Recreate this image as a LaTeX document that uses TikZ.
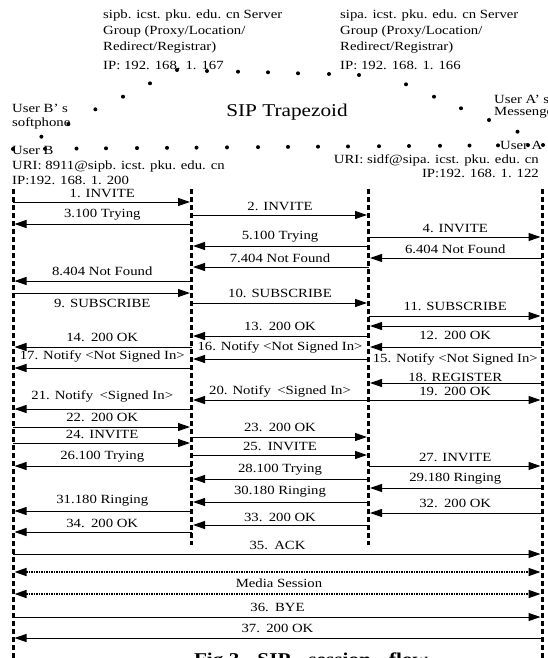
\documentclass[tikz,border=0pt]{standalone}
\usepackage{fontspec}
\setmainfont{Liberation Serif}[FakeStretch=1.18]
\usetikzlibrary{arrows.meta,calc}
\begin{document}
\begin{tikzpicture}[x=1pt,y=-1pt,
  lbl/.style={font=\fontsize{12.5}{15}\selectfont, inner sep=0pt},
  txt/.style={font=\fontsize{12.5}{15}\selectfont, inner sep=0pt, anchor=west},
  rtxt/.style={font=\fontsize{12.5}{15}\selectfont, inner sep=0pt, anchor=east},
  life/.style={line width=3pt, dash pattern=on 5pt off 3pt},
  msg/.style={line width=1pt, -{Triangle[length=12pt,width=8pt]}, shorten >=1.5pt},
  media/.style={line width=1.4pt, dash pattern=on 1.5pt off 1pt,
     {Triangle[length=12pt,width=8pt]}-{Triangle[length=12pt,width=8pt]},
     shorten >=1.5pt, shorten <=1.5pt},
]
\useasboundingbox (0,0) rectangle (548,658);

% header texts
\node[txt] (hb1) at (103,15) {sipb. icst. pku. edu. cn Server};
\node[txt] (hb2) at (103,32) {Group (Proxy/Location/};
\node[txt] (hb3) at (103,48) {Redirect/Registrar)};
\node[txt] (hb4) at (103,65) {IP: 192. 168. 1. 167};
\node[txt] (ha1) at (340,15) {sipa. icst. pku. edu. cn Server};
\node[txt] (ha2) at (340,32) {Group (Proxy/Location/};
\node[txt] (ha3) at (340,48) {Redirect/Registrar)};
\node[txt] (ha4) at (340,65) {IP: 192. 168. 1. 166};

\node[font=\fontsize{18}{20}\selectfont, inner sep=0pt] (trap) at (287,112) {SIP Trapezoid};

\node[txt] (ubs) at (12,108.5) {User B’ s};
\node[txt] (usp) at (12,123) {softphone};
\node[txt] (ub) at (12,150) {User B};
\node[txt] (uriB) at (12,166) {URI: 8911@sipb. icst. pku. edu. cn};
\node[txt] (ipB) at (12,180.5) {IP:192. 168. 1. 200};

\node[txt] (uas) at (494,99) {User A’ s};
\node[txt] (ums) at (494,113) {Messenger};
\node[txt] (ua) at (500,145) {User A};
\node[rtxt] (uriA) at (539,160) {URI: sidf@sipa. icst. pku. edu. cn};
\node[rtxt] (ipA) at (539,173.5) {IP:192. 168. 1. 122};

% dotted trapezoid
\foreach \x/\y in {177/70,207/71,238/71.7,268/72.3,298/73.3,329/74,359/75,
  150/83.3,123/96.7,95.4/109.3,68.4/124,41.4/136.7,
  406/84.3,434/96.7,461/108.3,489/120,517.5/131.7}
  \fill (\x,\y) circle (2pt);
\foreach \x in {13,45,76.5,106,137,167,196.5,227,258,288,318,348,379,409,440,469.5,498,528,543}
  \fill (\x,{149-4*(\x-13)/530}) circle (2pt);

% lifelines
\coordinate (B) at (13,189);
\coordinate (PB) at (191.5,189);
\coordinate (PA) at (368.5,189);
\coordinate (A) at (542,189);
\coordinate (Be) at (13,662);
\coordinate (PBe) at (191.5,545);
\coordinate (PAe) at (368.5,545);
\coordinate (Ae) at (542,662);
\draw[life] (B) -- (Be);
\draw[life] (PB) -- (PBe);
\draw[life] (PA) -- (PAe);
\draw[life] (A) -- (Ae);

% messages
\foreach \n/\y/\f/\t/\l/\ly in {
 1/202/B/PB/1. INVITE/193,
 2/215/PB/PA/2. INVITE/206,
 3/224/PB/B/3.100 Trying/215,
 4/237/PA/A/4. INVITE/228,
 5/246/PA/PB/5.100 Trying/237,
 6/258/A/PA/6.404 Not Found/249,
 7/267/PA/PB/7.404 Not Found/258,
 8/281/PB/B/8.404 Not Found/271.5,
 9/293/B/PB/9. SUBSCRIBE/303,
 10/303/PB/PA/10. SUBSCRIBE/293,
 11/316/PA/A/11. SUBSCRIBE/306.5,
 12/326/A/PA/12.\enspace 200 OK/335.5,
 13/336/PA/PB/13.\enspace 200 OK/326.5,
 14/347/PB/B/14.\enspace 200 OK/337.5,
 15/347/A/PA/15. Notify <Not Signed In>/359,
 16/359/PA/PB/16. Notify <Not Signed In>/347,
 17/368/PB/B/17. Notify <Not Signed In>/356,
 18/383/A/PA/18. REGISTER/377,
 19/400/PA/A/19.\enspace 200 OK/391,
 20/400/PA/PB/20. Notify\enspace <Signed In>/391,
 21/409/PB/B/21. Notify\enspace <Signed In>/396.5,
 22/427/B/PB/22.\enspace 200 OK/417,
 23/437/PB/PA/23.\enspace 200 OK/427,
 24/443/B/PB/24. INVITE/434,
 25/455/PB/PA/25.\enspace INVITE/446,
 26/466/PB/B/26.100 Trying/457,
 27/466/PA/A/27. INVITE/457,
 28/479/PA/PB/28.100 Trying/470,
 29/488/A/PA/29.180 Ringing/479,
 30/502/PA/PB/30.180 Ringing/492,
 31/511/PB/B/31.180 Ringing/501,
 32/513/A/PA/32.\enspace 200 OK/503,
 33/525/PA/PB/33.\enspace 200 OK/517,
 34/532/PB/B/34.\enspace 200 OK/523,
 35/554/B/A/35.\enspace ACK/545,
 36/617/B/A/36.\enspace BYE/607.5,
 37/638/A/B/37.\enspace 200 OK/628.5}{
  \path (\f) ++(0,\y-189) coordinate (s\n);
  \path (\t) ++(0,\y-189) coordinate (e\n);
  \draw[msg] (s\n) -- (e\n);
  \path ($(s\n)!0.5!(e\n)$) ++(0,\ly-\y) node[lbl] (l\n) {\l};
}

% media session
\path (B) ++(0,383) coordinate (m1s);
\path (A) ++(0,383) coordinate (m1e);
\path (B) ++(0,405) coordinate (m2s);
\path (A) ++(0,405) coordinate (m2e);
\draw[media] (m1s) -- (m1e);
\draw[media] (m2s) -- (m2e);
\node[lbl] (media) at (279,583) {Media Session};

% caption (cut by the page edge, as in the reference)
\node[font=\bfseries\fontsize{18}{20}\selectfont, anchor=base, inner sep=0pt] (cap) at (311,665)
  {Fig.3\hspace{18pt}SIP\hspace{18pt}session\hspace{18pt}flow};
\end{tikzpicture}
\end{document}
